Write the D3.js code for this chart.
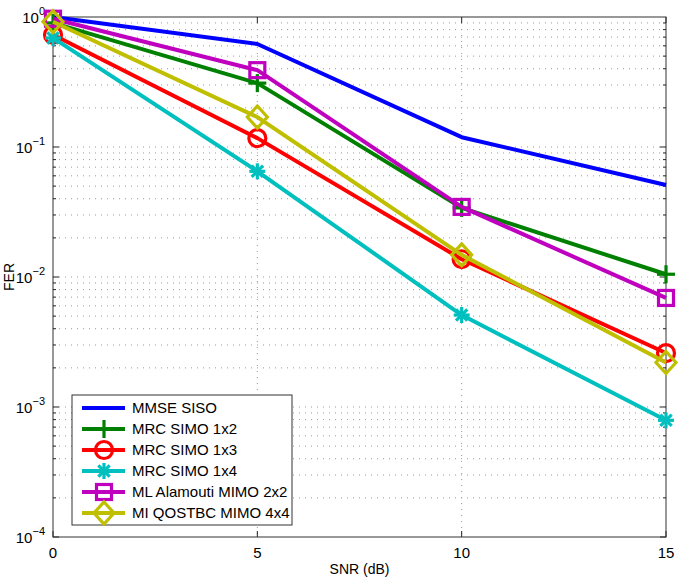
<!DOCTYPE html>
<html><head><meta charset="utf-8">
<script src="https://cdn.jsdelivr.net/npm/d3@7"></script>
<style>body{margin:0;background:#fff}svg{font-family:"Liberation Sans",Arial,sans-serif}</style>
</head><body><svg id="c" width="685" height="580"></svg>
<script>
const snr = [0, 5, 10, 15];
const seriesNames = ["MMSE SISO","MRC SIMO 1x2","MRC SIMO 1x3","MRC SIMO 1x4","ML Alamouti MIMO 2x2","MI QOSTBC MIMO 4x4"];
const mmseSiso = [1.0, 0.62, 0.119, 0.051];
const mrc1x2 = [0.9, 0.31, 0.034, 0.0105];
const mrc1x3 = [0.73, 0.117, 0.0137, 0.0026];
const mrc1x4 = [0.69, 0.065, 0.0051, 0.00079];
const alamouti = [0.97, 0.39, 0.0346, 0.0069];
const qostbc = [0.92, 0.17, 0.0148, 0.0022];
const xTicks = [0, 5, 10, 15];
const yTicks = [1e-4, 1e-3, 1e-2, 1e-1, 1];

const colors = ["#0000ff","#008000","#ff0000","#00bfbf","#bf00bf","#bfbf00"];
const markers = ["none","plus","circle","star","square","diamond"];
const data = [mmseSiso, mrc1x2, mrc1x3, mrc1x4, alamouti, qostbc];

const svg = d3.select("#c");
const L=53, R=666, T=17, B=537;
const x = d3.scaleLinear().domain([0,15]).range([L,R]);
const y = d3.scaleLog().domain([1e-4,1]).range([B,T]);

// grid
const g = svg.append("g");
const minor = [];
for (let e=-4; e<0; e++) for (let k=1;k<=9;k++) minor.push(k*Math.pow(10,e));
g.selectAll(".hg").data(minor.filter(v=>v>1e-4)).enter().append("line")
 .attr("x1",L).attr("x2",R).attr("y1",d=>y(d)).attr("y2",d=>y(d))
 .attr("stroke","#999").attr("stroke-width",1).attr("stroke-dasharray","1,5");
g.selectAll(".vg").data([5,10]).enter().append("line")
 .attr("y1",T).attr("y2",B).attr("x1",d=>x(d)).attr("x2",d=>x(d))
 .attr("stroke","#999").attr("stroke-width",1).attr("stroke-dasharray","1,5");

// ticks inward
const tk = svg.append("g").attr("stroke","#222").attr("stroke-width",1);
minor.forEach(v=>{
  const isMajor = Math.abs(Math.log10(v)-Math.round(Math.log10(v)))<1e-9;
  const len = isMajor?6:3;
  tk.append("line").attr("x1",L).attr("x2",L+len).attr("y1",y(v)).attr("y2",y(v));
  tk.append("line").attr("x1",R).attr("x2",R-len).attr("y1",y(v)).attr("y2",y(v));
});
xTicks.forEach(v=>{
  tk.append("line").attr("x1",x(v)).attr("x2",x(v)).attr("y1",B).attr("y2",B-6);
  tk.append("line").attr("x1",x(v)).attr("x2",x(v)).attr("y1",T).attr("y2",T+6);
});
svg.append("rect").attr("x",L).attr("y",T).attr("width",R-L).attr("height",B-T)
 .attr("fill","none").attr("stroke","#333").attr("stroke-width",1);

// axis labels
svg.selectAll(".xl").data(xTicks).enter().append("text")
 .attr("x",d=>x(d)).attr("y",B+21).attr("text-anchor","middle").attr("font-size",15).text(d=>d);
yTicks.forEach(v=>{
  const t = svg.append("text").attr("x",L-8).attr("y",y(v)+6).attr("text-anchor","end").attr("font-size",15);
  t.append("tspan").text("10");
  t.append("tspan").attr("dy",-8).attr("font-size",11).text(String(Math.round(Math.log10(v))).replace("-","\u2212"));
});
svg.append("text").attr("x",(L+R)/2).attr("y",574).attr("text-anchor","middle").attr("font-size",14).text("SNR (dB)");
svg.append("text").attr("transform",`translate(14,${(T+B)/2}) rotate(-90)`).attr("text-anchor","middle").attr("font-size",14).text("FER");

function drawMarker(sel, type, color){
  const sw=3.2;
  if(type==="plus"){
    sel.append("line").attr("x1",-9).attr("x2",9).attr("y1",0).attr("y2",0).attr("stroke",color).attr("stroke-width",sw);
    sel.append("line").attr("y1",-9).attr("y2",9).attr("x1",0).attr("x2",0).attr("stroke",color).attr("stroke-width",sw);
  } else if(type==="circle"){
    sel.append("circle").attr("r",8.5).attr("fill","none").attr("stroke",color).attr("stroke-width",sw);
  } else if(type==="star"){
    [0,45,90,135].forEach(a=>{
      sel.append("line").attr("x1",-8).attr("x2",8).attr("y1",0).attr("y2",0)
       .attr("transform",`rotate(${a})`).attr("stroke",color).attr("stroke-width",sw);
    });
  } else if(type==="square"){
    sel.append("rect").attr("x",-7.5).attr("y",-7.5).attr("width",15).attr("height",15).attr("fill","none").attr("stroke",color).attr("stroke-width",sw);
  } else if(type==="diamond"){
    sel.append("path").attr("d","M0,-11L10,0L0,11L-10,0Z").attr("fill","none").attr("stroke",color).attr("stroke-width",sw);
  }
}

const line = d3.line().x((d,i)=>x(snr[i])).y(d=>y(d));
const plot = svg.append("g");
data.forEach((s,k)=>{
  plot.append("path").attr("d",line(s)).attr("fill","none").attr("stroke",colors[k]).attr("stroke-width",4).attr("stroke-linejoin","round");
  s.forEach((v,i)=>{
    if(markers[k]!=="none") drawMarker(plot.append("g").attr("transform",`translate(${x(snr[i])},${y(v)})`), markers[k], colors[k]);
  });
});

// legend
const lg = svg.append("g");
lg.append("rect").attr("x",72).attr("y",395).attr("width",220).attr("height",130).attr("fill","#fff").attr("stroke","#333").attr("stroke-width",1);
seriesNames.forEach((n,k)=>{
  const yy = 408 + k*21;
  lg.append("line").attr("x1",82).attr("x2",125).attr("y1",yy).attr("y2",yy).attr("stroke",colors[k]).attr("stroke-width",4);
  if(markers[k]!=="none") drawMarker(lg.append("g").attr("transform",`translate(104,${yy})`), markers[k], colors[k]);
  lg.append("text").attr("x",132).attr("y",yy+5).attr("font-size",15).text(n);
});
</script></body></html>
